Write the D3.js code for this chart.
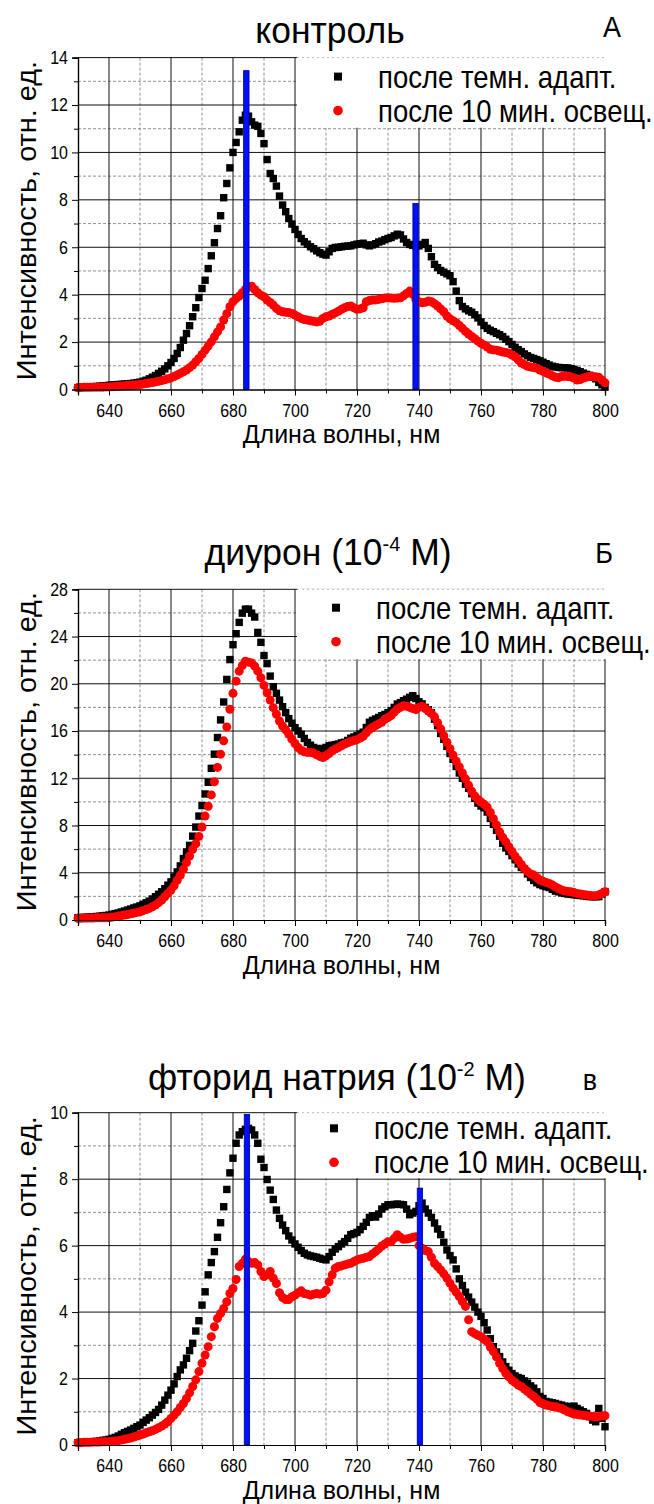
<!DOCTYPE html>
<html>
<head>
<meta charset="utf-8">
<script src="https://cdn.jsdelivr.net/npm/d3@7"></script>
<style>
  body { margin: 0; background: #fff; }
  text { font-family: "Liberation Sans", Arial, sans-serif; fill: #000; }
</style>
</head>
<body>
<svg id="chart"></svg>
<script>
"use strict";

// sampling grid of the spectra, 1 nm
const wavelengths = d3.range(630, 801);

// контроль
const darkA = [
  0.08,0.09,0.1,0.1,0.11,0.12,0.13,0.14,0.15,0.16,           // 630
  0.18,0.19,0.2,0.21,0.22,0.23,0.24,0.25,0.27,0.29,          // 640
  0.31,0.35,0.39,0.45,0.52,0.59,0.68,0.77,0.87,1.0,          // 650
  1.14,1.31,1.52,1.77,2.08,2.36,2.69,3.07,3.45,3.88,         // 660
  4.26,4.61,5.1,5.64,6.19,6.79,7.33,8.09,8.69,9.35,          // 670
  10.0,10.42,10.87,11.36,11.57,11.53,11.29,11.15,11.1,10.8,  // 680
  10.37,9.7,9.11,8.9,8.58,8.16,7.78,7.5,7.21,6.98,           // 690
  6.75,6.54,6.37,6.23,6.13,6.02,5.94,5.85,5.77,5.71,         // 700
  5.67,5.81,5.95,5.99,6.0,6.02,6.04,6.05,6.06,6.1,           // 710
  6.13,6.15,6.17,6.1,6.06,6.1,6.15,6.22,6.26,6.32,           // 720
  6.37,6.41,6.48,6.55,6.52,6.35,6.2,6.12,6.08,6.06,          // 730
  6.06,6.12,6.2,5.95,5.6,5.28,5.14,5.02,4.95,4.88,           // 740
  4.8,4.55,4.15,3.75,3.5,3.4,3.32,3.26,3.15,3.02,            // 750
  2.85,2.7,2.58,2.5,2.44,2.37,2.31,2.23,2.12,2.02,           // 760
  1.9,1.78,1.68,1.6,1.5,1.42,1.35,1.31,1.26,1.21,            // 770
  1.15,1.09,1.03,0.98,0.95,0.93,0.92,0.92,0.91,0.88,         // 780
  0.85,0.8,0.75,0.69,0.64,0.6,0.52,0.45,0.3,0.2,             // 790
  0.1                                                         // 800
];
const lightA = [
  0.08,0.08,0.09,0.09,0.09,0.1,0.1,0.1,0.1,0.11,
  0.11,0.12,0.13,0.14,0.15,0.16,0.17,0.18,0.19,0.2,
  0.21,0.23,0.25,0.27,0.29,0.32,0.35,0.38,0.41,0.45,
  0.49,0.55,0.61,0.68,0.75,0.82,0.92,1.03,1.17,1.31,
  1.48,1.66,1.83,2.01,2.22,2.43,2.64,2.93,3.2,3.49,
  3.7,3.84,3.94,4.08,4.22,4.33,4.36,4.22,4.08,3.98,
  3.91,3.77,3.67,3.56,3.42,3.32,3.28,3.26,3.25,3.21,
  3.14,3.07,3.0,2.95,2.93,2.9,2.88,2.85,2.88,3.0,
  3.07,3.1,3.17,3.23,3.3,3.38,3.45,3.5,3.52,3.45,
  3.38,3.4,3.45,3.7,3.75,3.77,3.78,3.8,3.83,3.86,
  3.87,3.86,3.85,3.86,3.87,3.95,4.05,4.15,4.02,3.8,
  3.7,3.66,3.68,3.73,3.7,3.62,3.52,3.4,3.28,3.1,
  2.98,2.9,2.82,2.7,2.58,2.45,2.34,2.24,2.14,2.04,
  1.95,1.88,1.79,1.7,1.67,1.66,1.62,1.58,1.56,1.53,
  1.45,1.38,1.25,1.12,1.05,0.98,0.95,0.93,0.9,0.82,
  0.77,0.7,0.65,0.58,0.52,0.5,0.55,0.56,0.55,0.53,
  0.48,0.4,0.42,0.48,0.52,0.56,0.55,0.54,0.52,0.4,
  0.28
];

// диурон
const darkB = [
  0.2,0.21,0.22,0.24,0.26,0.28,0.3,0.32,0.35,0.38,
  0.42,0.48,0.54,0.6,0.68,0.76,0.84,0.93,1.02,1.1,
  1.2,1.33,1.46,1.6,1.78,1.97,2.18,2.39,2.65,2.95,
  3.23,3.65,4.07,4.58,5.2,5.76,6.32,7.1,7.87,8.8,
  9.69,10.67,11.66,12.84,14.04,15.45,16.94,18.46,20.37,22.05,
  23.31,24.24,25.2,25.98,26.32,26.32,25.98,25.65,24.35,23.51,
  22.39,21.71,20.65,19.75,19.19,18.62,18.06,17.56,17.05,16.66,
  16.29,16.01,15.73,15.37,15.03,14.8,14.61,14.52,14.47,14.52,
  14.61,14.75,14.8,14.85,14.9,15.0,15.05,15.2,15.39,15.5,
  15.6,15.75,15.9,16.3,16.74,16.9,17.02,17.15,17.3,17.4,
  17.55,17.72,18.0,18.28,18.4,18.57,18.7,18.85,18.99,18.75,
  18.48,18.3,18.0,17.8,17.55,17.0,16.46,15.8,15.3,14.7,
  14.1,13.6,13.0,12.45,12.0,11.5,11.15,10.7,10.3,9.9,
  9.65,9.5,9.14,8.6,8.1,7.6,7.1,6.5,6.1,5.8,
  5.45,5.1,4.75,4.45,4.3,3.9,3.6,3.35,3.15,3.0,
  2.9,2.82,2.75,2.6,2.45,2.39,2.3,2.25,2.2,2.17,
  2.14,2.11,2.08,2.05,2.02,1.98,1.97,1.97,1.98,2.2,
  2.39
];
const lightB = [
  0.15,0.15,0.16,0.16,0.17,0.17,0.18,0.18,0.19,0.19,
  0.2,0.24,0.28,0.33,0.37,0.42,0.47,0.52,0.58,0.64,
  0.7,0.79,0.88,0.98,1.12,1.26,1.47,1.69,1.97,2.25,
  2.53,2.89,3.37,3.79,4.3,4.86,5.42,5.98,6.46,7.08,
  7.87,8.8,9.63,10.59,11.71,12.92,14.04,15.17,16.35,17.84,
  19.19,20.22,21.07,21.54,21.91,21.83,21.77,21.49,21.07,20.51,
  19.86,19.24,18.62,17.98,17.42,16.85,16.43,16.1,15.73,15.31,
  14.94,14.61,14.38,14.24,14.19,14.19,14.13,13.99,13.85,13.76,
  13.9,14.1,14.33,14.47,14.6,14.75,14.9,15.0,15.11,15.2,
  15.27,15.4,15.56,15.85,16.12,16.3,16.46,16.6,16.74,17.0,
  17.15,17.3,17.6,17.86,18.0,18.14,18.1,18.0,17.9,17.81,
  18.0,18.1,17.9,17.7,17.5,17.2,16.7,16.17,15.6,15.05,
  14.5,13.95,13.45,12.95,12.45,11.95,11.4,10.9,10.5,10.2,
  9.99,9.8,9.56,9.1,8.58,8.05,7.45,7.0,6.61,6.2,
  5.8,5.4,5.06,4.7,4.36,4.1,3.9,3.8,3.6,3.38,
  3.28,3.18,3.1,2.97,2.8,2.67,2.55,2.45,2.42,2.39,
  2.32,2.25,2.2,2.15,2.11,2.08,2.05,2.06,2.11,2.25,
  2.39
];

// фторид натрия
const darkC = [
  0.07,0.08,0.08,0.09,0.09,0.1,0.11,0.12,0.14,0.15,
  0.17,0.2,0.23,0.27,0.32,0.37,0.41,0.45,0.5,0.55,
  0.6,0.68,0.75,0.82,0.9,0.98,1.07,1.2,1.35,1.5,
  1.65,1.84,2.06,2.26,2.41,2.61,2.84,3.06,3.43,3.74,
  4.21,4.61,5.12,5.49,5.82,6.25,6.69,7.17,7.69,8.19,
  8.63,9.08,9.33,9.43,9.5,9.53,9.48,9.33,9.08,8.6,
  8.35,7.99,7.67,7.39,7.07,6.82,6.62,6.45,6.29,6.17,
  6.05,5.95,5.85,5.77,5.72,5.69,5.67,5.65,5.62,5.59,
  5.57,5.67,5.8,5.9,5.97,6.05,6.12,6.22,6.33,6.36,
  6.4,6.48,6.58,6.7,6.85,6.9,6.86,6.95,7.1,7.17,
  7.23,7.23,7.24,7.25,7.24,7.23,7.1,6.93,6.98,7.03,
  7.2,7.28,7.1,6.98,6.85,6.68,6.5,6.33,6.1,5.87,
  5.7,5.57,5.3,5.0,4.8,4.6,4.45,4.3,4.15,4.0,
  3.87,3.68,3.46,3.2,2.96,2.8,2.66,2.5,2.36,2.25,
  2.15,2.08,2.03,2.0,1.93,1.86,1.78,1.71,1.6,1.46,
  1.4,1.31,1.29,1.27,1.25,1.22,1.2,1.17,1.15,1.16,
  1.17,1.1,1.05,1.0,0.95,0.85,0.75,0.7,1.1,0.8,
  0.55
];
const lightC = [
  0.07,0.07,0.08,0.08,0.08,0.09,0.09,0.09,0.1,0.1,
  0.1,0.11,0.12,0.13,0.15,0.17,0.19,0.21,0.24,0.27,
  0.3,0.33,0.37,0.4,0.43,0.47,0.52,0.57,0.63,0.7,
  0.8,0.9,1.0,1.13,1.25,1.4,1.57,1.76,1.96,2.21,
  2.46,2.71,2.96,3.26,3.56,3.81,3.96,4.11,4.31,4.56,
  4.71,4.98,5.37,5.47,5.59,5.52,5.47,5.49,5.42,5.22,
  5.07,5.12,5.22,5.02,4.86,4.58,4.44,4.38,4.38,4.46,
  4.51,4.58,4.64,4.56,4.54,4.51,4.54,4.56,4.54,4.56,
  4.66,4.91,5.12,5.32,5.37,5.39,5.42,5.45,5.47,5.52,
  5.57,5.6,5.62,5.65,5.67,5.75,5.82,5.9,5.99,6.05,
  6.12,6.12,6.22,6.33,6.25,6.19,6.2,6.22,6.25,6.27,
  6.0,5.92,5.85,5.82,5.65,5.47,5.37,5.27,5.15,5.02,
  4.87,4.72,4.6,4.47,4.32,4.17,3.77,3.41,3.35,3.3,
  3.26,3.18,3.11,2.95,2.81,2.65,2.46,2.3,2.16,2.05,
  1.95,1.88,1.8,1.76,1.68,1.61,1.53,1.46,1.38,1.28,
  1.24,1.2,1.18,1.16,1.15,1.12,1.1,1.05,1.0,0.97,
  0.93,0.92,0.9,0.89,0.88,0.87,0.86,0.85,0.86,0.87,
  0.88
];

// blue marker bars (wavelength, height)
const barsA = [[684.3, 13.45], [738.9, 7.85]];
const barsC = [[684.5, 9.95], [740.3, 7.73]];

const xMajorTicks = [640, 660, 680, 700, 720, 740, 760, 780, 800];
const xMinorTicks = [630, 650, 670, 690, 710, 730, 750, 770, 790];

const legendLabels = ["после темн. адапт.", "после 10 мин. освещ."];
const xTitle = "Длина волны, нм";
const yTitle = "Интенсивность, отн. ед.";

const panels = [
  {top: 57.6, bottom: 389.5, yMax: 14, yStep: 2, dark: darkA, light: lightA, bars: barsA,
   legendTo: 11, title: ["контроль"], titleX: 330, titleY: 43,
   letter: "А", letterX: 612, letterY: 37, legX: 338, legY: 19},
  {top: 589.3, bottom: 920, yMax: 28, yStep: 4, dark: darkB, light: lightB, bars: [],
   legendTo: 22, title: ["диурон (10", "-4", " М)"], titleX: 328, titleY: 565,
   letter: "Б", letterX: 604, letterY: 563, legX: 336, legY: 18.4},
  {top: 1112.7, bottom: 1445, yMax: 10, yStep: 2, dark: darkC, light: lightC, bars: barsC,
   legendTo: 8, title: ["фторид натрия (10", "-2", " М)"], titleX: 337, titleY: 1090,
   letter: "в", letterX: 590, letterY: 1090, legX: 334, legY: 15.6}
];

const width = 654, height = 1504;
const left = 78, right = 605, legendLeft = 297;

const svg = d3.select("#chart")
  .attr("width", width)
  .attr("height", height)
  .style("background-color", "white");

svg.append("rect").attr("width", width).attr("height", height).attr("fill", "white");

const x = d3.scaleLinear().domain([630, 800]).range([left, right]);

// text stretched vertically like in the picture
function stretched(g, px, py, str, size, sy, anchor) {
  return g.append("text")
    .attr("transform", "translate(" + px + "," + py + ") scale(1," + sy + ")")
    .attr("text-anchor", anchor || "start")
    .style("font-size", size + "px")
    .text(str);
}

panels.forEach(function (p) {
  const y = d3.scaleLinear().domain([0, p.yMax]).range([p.bottom, p.top]);
  const g = svg.append("g");

  const yMajor = d3.range(0, p.yMax + 0.001, p.yStep);
  const yMinor = d3.range(p.yStep / 2, p.yMax, p.yStep);

  // grid
  const grid = g.append("g");
  grid.selectAll(".vmin").data(xMinorTicks.slice(1)).join("line")
    .attr("x1", d => x(d)).attr("x2", d => x(d))
    .attr("y1", p.top).attr("y2", p.bottom)
    .attr("stroke", "#777").attr("stroke-width", 0.8).attr("stroke-dasharray", "3,2");
  grid.selectAll(".hmin").data(yMinor).join("line")
    .attr("x1", left).attr("x2", right)
    .attr("y1", d => y(d)).attr("y2", d => y(d))
    .attr("stroke", "#777").attr("stroke-width", 0.8).attr("stroke-dasharray", "3,2");
  grid.selectAll(".vmaj").data(xMajorTicks).join("line")
    .attr("x1", d => x(d)).attr("x2", d => x(d))
    .attr("y1", p.top).attr("y2", p.bottom)
    .attr("stroke", "#111").attr("stroke-width", 1);
  grid.selectAll(".hmaj").data(yMajor.slice(1)).join("line")
    .attr("x1", left).attr("x2", right)
    .attr("y1", d => y(d)).attr("y2", d => y(d))
    .attr("stroke", "#111").attr("stroke-width", 1);

  // legend area hides the grid
  g.append("rect")
    .attr("x", legendLeft).attr("y", p.top - 1)
    .attr("width", width - legendLeft).attr("height", y(p.legendTo) - p.top)
    .attr("fill", "white");
  g.append("line")
    .attr("x1", legendLeft).attr("x2", right)
    .attr("y1", p.top).attr("y2", p.top)
    .attr("stroke", "#aaa").attr("stroke-width", 0.8).attr("stroke-dasharray", "2,3");

  // data
  const pts = function (arr) { return arr.map((v, i) => ({x: wavelengths[i], y: v})); };
  g.append("g").selectAll("rect").data(pts(p.dark)).join("rect")
    .attr("x", d => x(d.x) - 3.7).attr("y", d => y(d.y) - 3.7)
    .attr("width", 7.4).attr("height", 7.4).attr("fill", "#000");
  g.append("g").selectAll("circle").data(pts(p.light)).join("circle")
    .attr("cx", d => x(d.x)).attr("cy", d => y(d.y)).attr("r", 4.5)
    .attr("fill", "#ff0000");

  // blue bars
  g.append("g").selectAll("rect").data(p.bars).join("rect")
    .attr("x", d => x(d[0]) - 2.7).attr("y", d => y(d[1]))
    .attr("width", 5.4).attr("height", d => p.bottom - y(d[1]))
    .attr("fill", "#0010ff").attr("stroke", "#00007a").attr("stroke-width", 0.8);

  // axes
  const yAxis = g.append("g").attr("transform", "translate(" + left + ",0)")
    .call(d3.axisLeft(y).tickValues(yMajor).tickSize(6).tickPadding(4).tickFormat(d3.format("d")));
  g.append("g").attr("transform", "translate(" + left + ",0)")
    .call(d3.axisLeft(y).tickValues(yMinor).tickSize(4).tickFormat(""));
  const xAxis = g.append("g").attr("transform", "translate(0," + p.bottom + ")")
    .call(d3.axisBottom(x).tickValues(xMajorTicks).tickSize(6).tickFormat(d3.format("d")));
  g.append("g").attr("transform", "translate(0," + p.bottom + ")")
    .call(d3.axisBottom(x).tickValues(xMinorTicks).tickSize(4).tickFormat(""));

  g.selectAll(".domain").attr("stroke", "#000").attr("stroke-width", 1.2);
  g.selectAll(".tick line").attr("stroke", "#000").attr("stroke-width", 1);

  yAxis.selectAll("text")
    .attr("font-family", null).style("font-size", "16px")
    .attr("dy", null).attr("y", 5).attr("transform", "scale(1,1.15)");
  xAxis.selectAll("text")
    .attr("font-family", null).style("font-size", "16px")
    .attr("dy", null).attr("y", 23.5).attr("transform", "scale(1,1.15)");

  // titles
  const t = g.append("text")
    .attr("transform", "translate(" + p.titleX + "," + p.titleY + ") scale(1,1.05)")
    .attr("text-anchor", "middle").style("font-size", "35.5px");
  t.append("tspan").text(p.title[0]);
  if (p.title.length > 1) {
    t.append("tspan").attr("dy", -13).style("font-size", "20px").text(p.title[1]);
    t.append("tspan").attr("dy", 13).text(p.title[2]);
  }
  stretched(g, p.letterX, p.letterY, p.letter, 27, 1.1, "middle");

  stretched(g, (left + right) / 2, p.bottom + 53.5, xTitle, 25, 1.0, "middle");
  g.append("text")
    .attr("transform", "translate(36," + ((p.top + p.bottom) / 2 - 3) + ") scale(1,1.07) rotate(-90)")
    .attr("text-anchor", "middle").style("font-size", "27px")
    .text(yTitle);

  // legend
  const ly = p.top + p.legY;
  g.append("rect").attr("x", p.legX - 4).attr("y", ly - 4).attr("width", 8).attr("height", 8).attr("fill", "#000");
  g.append("circle").attr("cx", p.legX).attr("cy", ly + 34).attr("r", 4.8).attr("fill", "#ff0000");
  stretched(g, p.legX + 40, ly + 11, legendLabels[0], 27.5, 1.15);
  stretched(g, p.legX + 40, ly + 45, legendLabels[1], 27.5, 1.15);
});
</script>
</body>
</html>
